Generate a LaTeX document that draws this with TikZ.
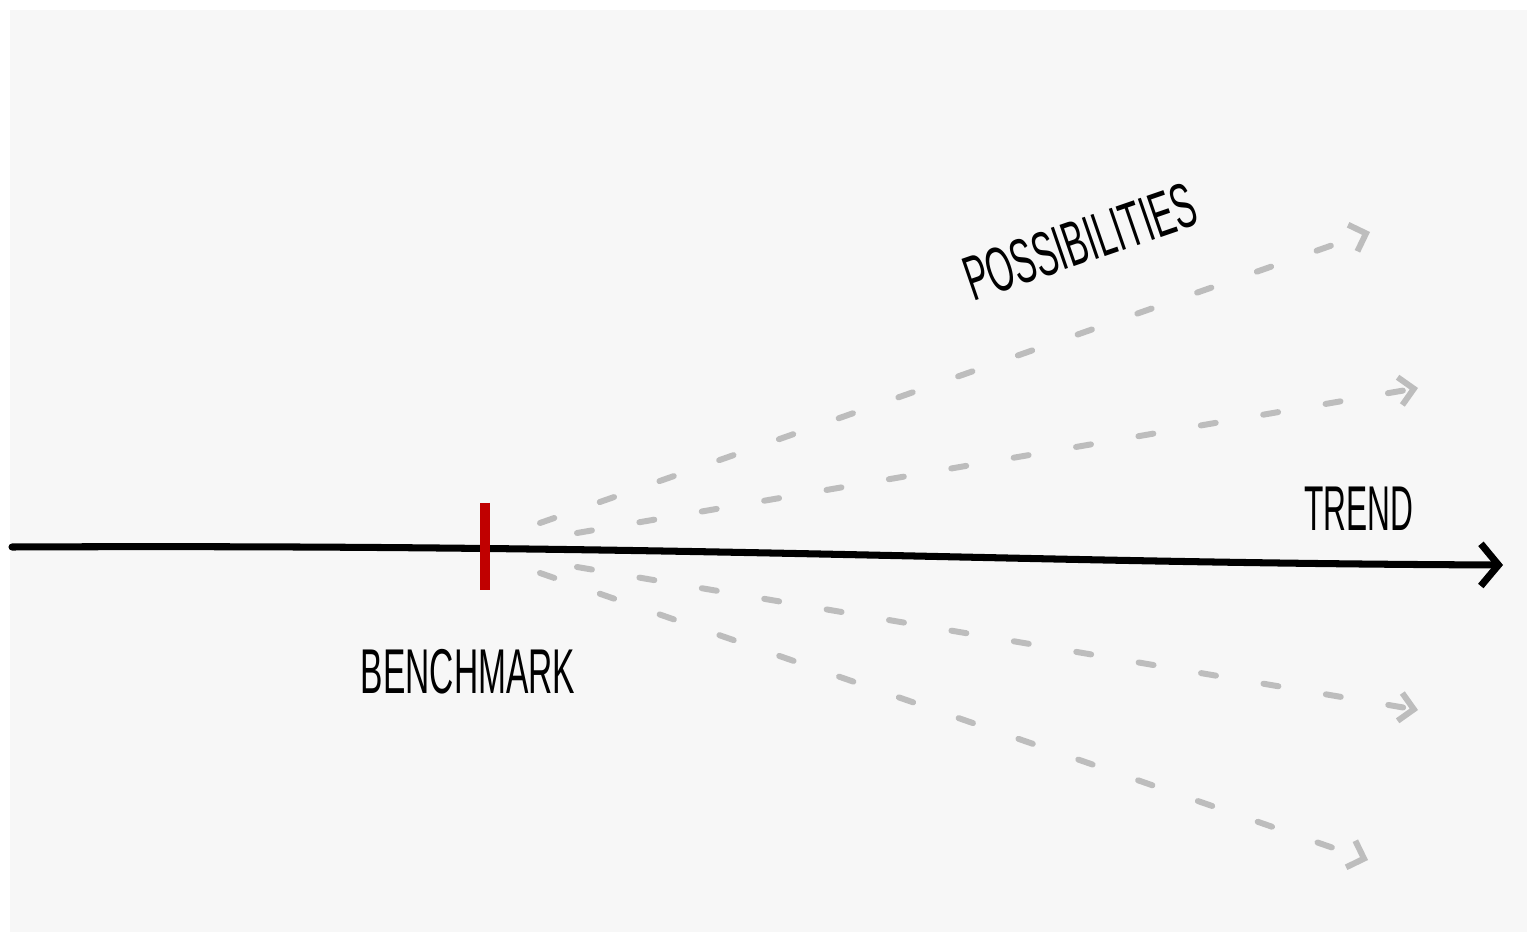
\documentclass[tikz,border=0pt]{standalone}
\usepackage{fontspec}
\setmainfont{Liberation Sans}
\usetikzlibrary{arrows.meta}
\definecolor{paper}{HTML}{F7F7F7}
\definecolor{dashgrey}{HTML}{BDBDBD}
\definecolor{markred}{HTML}{C00000}
\tikzset{
  trendline/.style={
    line width=2pt,
    line cap=round,
    -{Straight Barb[length=5pt,width=12pt,line width=2pt]}
  },
  possibility/.style={
    dashgrey,
    line width=1.7pt,
    line cap=round,
    dash pattern=on 4.3pt off 13.7pt,
    -{Straight Barb[length=4pt,width=8pt]}
  },
  benchmark/.style={
    markred,
    line width=2.8pt
  },
  sketchtext/.style={
    inner sep=0pt,
    font=\fontsize{18}{18}\selectfont
  }
}

\begin{document}
\begin{tikzpicture}[x=0.01cm, y=-0.01cm]
  \fill[white] (0,0) rectangle (1528,934);
  \fill[paper] (10,10) rectangle (1527,932);
  \useasboundingbox (0,0) rectangle (1528,934);

  \coordinate (trendstart) at (12,547);
  \coordinate (trendend) at (1503,565);
  \coordinate (marktop) at (485,503);
  \coordinate (markbot) at (485,590);

  \coordinate (p1s) at (540,523);
  \coordinate (p1e) at (1370,232);
  \coordinate (p2s) at (577,533);
  \coordinate (p2e) at (1418,388);
  \coordinate (p3s) at (577,567);
  \coordinate (p3e) at (1418,710);
  \coordinate (p4s) at (540,573);
  \coordinate (p4e) at (1368,860);

  \foreach \i in {1,...,4}
    \draw[possibility] (p\i s) -- (p\i e);

  \draw[trendline] (trendstart) .. controls (700,544) and (1000,563) .. (trendend);
  \draw[benchmark] (marktop) -- (markbot);

  \node[sketchtext] (benchlabel) at (468,672) {\scalebox{0.53}[1]{BENCHMARK}};
  \node[sketchtext] (trendlabel) at (1359,509) {\scalebox{0.5}[1]{TREND}};
  \node[sketchtext, rotate=19] (posslabel) at (1080,242) {\scalebox{0.54}[1]{POSSIBILITIES}};
\end{tikzpicture}
\end{document}
